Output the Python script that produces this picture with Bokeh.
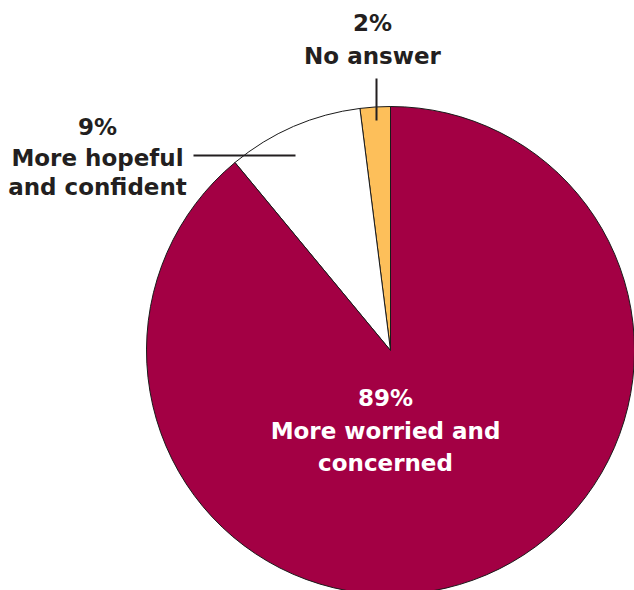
import numpy as np
from bokeh.plotting import figure
from bokeh.models import ColumnDataSource, Range1d
from bokeh.core.properties import value
from bokeh.embed import file_html
from bokeh.resources import INLINE

categories = ["No answer", "More hopeful and confident", "More worried and concerned"]
percents = [2, 9, 89]
colors = ["#FDBF5A", "#FFFFFF", "#A30044"]

W, H = 634, 590
p = figure(width=W, height=H, output_backend="svg", toolbar_location=None,
           x_range=Range1d(0, W), y_range=Range1d(0, H), min_border=0)
p.axis.visible = False
p.grid.visible = False
p.outline_line_color = None
p.background_fill_color = "white"
p.border_fill_color = "white"

cx, cy, r = 390, 240, 244
vals = np.array(percents, dtype=float)
frac = vals / vals.sum()
cum = np.concatenate([[0], np.cumsum(frac)])
start = np.pi / 2 + cum[:-1] * 2 * np.pi
end = np.pi / 2 + cum[1:] * 2 * np.pi
src = ColumnDataSource(dict(start=start, end=end, color=colors, cat=categories))
p.wedge(x=cx, y=cy, radius=r, start_angle="start", end_angle="end",
        fill_color="color", line_color="#1a1a1a", line_width=1, source=src)

font = value("DejaVu Sans")
dark = "#231F20"
fs = "23px"

def label(x, ys, lines, color):
    p.text(x=[x] * len(lines), y=ys, text=lines, text_font=font,
           text_font_style="bold", text_font_size=fs, text_color=color,
           text_align="center", text_baseline="middle")

label(372, [568, 535], [f"{percents[0]}%", "No answer"], dark)
label(97, [464, 433, 404], [f"{percents[1]}%", "More hopeful", "and confident"], dark)
label(385, [193, 160, 128], [f"{percents[2]}%", "More worried and", "concerned"], "white")

# leader lines
p.line(x=[376, 376], y=[512, 470], line_color=dark, line_width=2)
p.line(x=[193, 295], y=[435, 435], line_color=dark, line_width=2)

open("out.html", "w").write(file_html(p, INLINE))
